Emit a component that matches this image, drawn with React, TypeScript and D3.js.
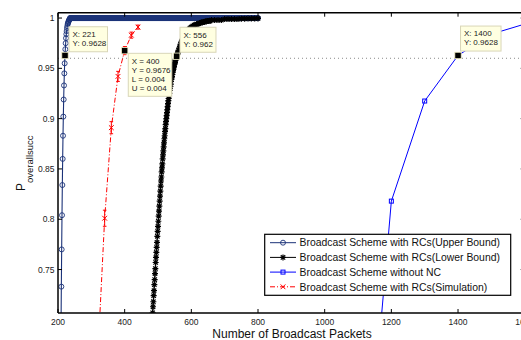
import React from "react";
import * as d3 from "d3";

// ---- data -------------------------------------------------------------
// Upper bound: one value per packet count, starting at upperBoundStart
const upperBoundStart = 209;
const upperBoundRise = [
  0.69, 0.733, 0.77, 0.804, 0.834, 0.86, 0.883, 0.902, 0.919, 0.933, 0.945,
  0.955, 0.9628, 0.969, 0.975, 0.98, 0.984, 0.987, 0.99, 0.992, 0.994, 0.995,
  0.996, 0.997, 0.998, 0.998, 0.999,
];
// after the rise the upper bound stays saturated up to the last packet count
const upperBoundSaturated = 1;
const upperBoundEnd = 800;

// Lower bound: one value per packet count from lowerBoundStart
const lowerBoundStart = 481;
const lowerBoundSteep = [
  0.69, 0.696, 0.701, 0.707, 0.713, 0.718, 0.724, 0.729, 0.735, 0.74, 0.746,
  0.751, 0.757, 0.762, 0.767, 0.772, 0.777, 0.783, 0.788, 0.793, 0.798, 0.803,
  0.808, 0.813, 0.818, 0.823, 0.828, 0.833, 0.838, 0.842, 0.847, 0.851, 0.855,
  0.86, 0.864, 0.868, 0.872, 0.876, 0.88, 0.883, 0.887, 0.89, 0.894, 0.897,
  0.9, 0.903, 0.906, 0.909, 0.912, 0.915, 0.918, 0.92, 0.923, 0.925, 0.928,
  0.93, 0.932, 0.934, 0.937, 0.939, 0.941, 0.942, 0.944, 0.946, 0.948, 0.949,
  0.951, 0.952, 0.954, 0.955, 0.956, 0.958, 0.959, 0.96, 0.961, 0.962, 0.963,
  0.964, 0.965, 0.966,
];
const lowerBoundTailX = [
  562, 564, 566, 568, 570, 572, 574, 576, 578, 580, 582, 584, 586, 588, 590,
  592, 594, 596, 598, 600, 604, 608, 612, 616, 620, 624, 628, 632, 636, 640,
  644, 648, 652, 656, 660, 670, 680, 690, 700, 710, 720, 730, 740, 750, 760,
  770, 780, 790, 800,
];
const lowerBoundTailY = [
  0.968, 0.97, 0.972, 0.974, 0.976, 0.977, 0.979, 0.98, 0.981, 0.983, 0.984,
  0.985, 0.986, 0.987, 0.988, 0.988, 0.989, 0.99, 0.99, 0.991, 0.992, 0.993,
  0.993, 0.994, 0.994, 0.995, 0.995, 0.996, 0.996, 0.996, 0.997, 0.997, 0.997,
  0.997, 0.998, 0.998, 0.998, 0.998, 0.999, 0.999, 0.999, 0.999, 0.999,
  0.9993, 0.9994, 0.9995, 0.9995, 0.9996, 0.9996,
];

// Broadcast without network coding
const noNcX = [1100, 1200, 1300, 1400, 1500, 1600];
const noNcY = [0.432, 0.818, 0.9175, 0.9628, 0.984, 0.994];

// Simulation with error bars (lower / upper deviation)
const simX = [320, 340, 360, 380, 400, 420, 440];
const simY = [0.668, 0.801, 0.891, 0.942, 0.9676, 0.983, 0.991];
const simErr = [0.009, 0.008, 0.006, 0.005, 0.004, 0.003, 0.002];

const xTicks = [200, 400, 600, 800, 1000, 1200, 1400, 1600];
const yTicks = [0.75, 0.8, 0.85, 0.9, 0.95, 1];
const thresholdLevel = 0.96;

const legendLabels = [
  "Broadcast Scheme with RCs(Upper Bound)",
  "Broadcast Scheme with RCs(Lower Bound)",
  "Broadcast Scheme without NC",
  "Broadcast Scheme with RCs(Simulation)",
];

type Pt = { x: number; y: number };

const upperPoints: Pt[] = [
  ...upperBoundRise.map((y, i) => ({ x: upperBoundStart + i, y })),
  ...d3
    .range(upperBoundStart + upperBoundRise.length, upperBoundEnd + 1)
    .map((x) => ({ x, y: upperBoundSaturated })),
];
const lowerPoints: Pt[] = [
  ...lowerBoundSteep.map((y, i) => ({ x: lowerBoundStart + i, y })),
  ...lowerBoundTailX.map((x, i) => ({ x, y: lowerBoundTailY[i] })),
];
const noNcPoints: Pt[] = noNcX.map((x, i) => ({ x, y: noNcY[i] }));
const simPoints = simX.map((x, i) => ({ x, y: simY[i], e: simErr[i] }));

// ---- layout -----------------------------------------------------------
const W = 521;
const H = 340;
const left = 58;
const right = 524.7;
const top = 12.7;
const bottom = 313;

const x = d3.scaleLinear().domain([200, 1600]).range([left, right]);
const y = d3.scaleLinear().domain([0.7068, 1.0053]).range([bottom, top]);

const navy = "#1b3278";
const blue = "#0000ff";
const red = "#ff0000";
const font = "'Liberation Sans', Arial, Helvetica, sans-serif";

const line = d3
  .line<Pt>()
  .x((d) => x(d.x))
  .y((d) => y(d.y));

const starPath =
  "M-3,0H3M0,-3V3M-2.2,-2.2L2.2,2.2M-2.2,2.2L2.2,-2.2";
const crossPath = "M-2.4,-2.4L2.4,2.4M-2.4,2.4L2.4,-2.4";

function Circle({ cx, cy }: { cx: number; cy: number }) {
  return (
    <circle cx={cx} cy={cy} r={2.5} fill="none" stroke={navy} strokeWidth={0.9} />
  );
}
function Star({ cx, cy }: { cx: number; cy: number }) {
  return (
    <path d={starPath} transform={`translate(${cx},${cy})`} stroke="#000" strokeWidth={1.2} fill="none" />
  );
}
function Square({ cx, cy }: { cx: number; cy: number }) {
  return (
    <rect x={cx - 2} y={cy - 2} width={4} height={4} fill="none" stroke={blue} strokeWidth={1} />
  );
}
function Cross({ cx, cy }: { cx: number; cy: number }) {
  return (
    <path d={crossPath} transform={`translate(${cx},${cy})`} stroke={red} strokeWidth={1} fill="none" />
  );
}

// data tips: anchored on a data point, box offset from the marker
const tips = [
  { px: 221, py: 0.9628, lines: ["X: 221", "Y: 0.9628"], dx: 4, dy: -28.7, w: 38.5 },
  {
    px: 400,
    py: 0.9676,
    lines: ["X = 400", "Y = 0.9676", "L = 0.004", "U = 0.004"],
    dx: 3.6,
    dy: 2.7,
    w: 43.5,
  },
  { px: 556, py: 0.962, lines: ["X: 556", "Y: 0.962"], dx: 3.3, dy: -29, w: 36 },
  { px: 1400, py: 0.9628, lines: ["X: 1400", "Y: 0.9628"], dx: 2.5, dy: -29.4, w: 40.5 },
];

export default function App() {
  const legendX = 264.7;
  const legendY = 234.3;
  const rowY = (i: number) => 242.7 + i * 14.7;

  return (
    <svg
      width={W}
      height={H}
      style={{ position: "absolute", left: 0, top: 0, background: "#fff" }}
      fontFamily={font}
    >
      <defs>
        <clipPath id="plot">
          <rect x={left} y={top} width={right - left} height={bottom - top} />
        </clipPath>
      </defs>
      <rect x={0} y={0} width={W} height={H} fill="#fff" />

      {/* threshold reference line */}
      <line
        x1={left}
        x2={right}
        y1={y(thresholdLevel)}
        y2={y(thresholdLevel)}
        stroke="#8a8a8a"
        strokeWidth={1}
        strokeDasharray="1,3"
      />

      <g clipPath="url(#plot)">
        {/* upper bound */}
        <path d={line(upperPoints) ?? ""} fill="none" stroke={navy} strokeWidth={1.1} />
        {upperPoints.map((d, i) => (
          <Circle key={"u" + i} cx={x(d.x)} cy={y(d.y)} />
        ))}

        {/* lower bound */}
        <path d={line(lowerPoints) ?? ""} fill="none" stroke="#000" strokeWidth={1.1} />
        {lowerPoints.map((d, i) => (
          <Star key={"l" + i} cx={x(d.x)} cy={y(d.y)} />
        ))}

        {/* without network coding */}
        <path d={line(noNcPoints) ?? ""} fill="none" stroke={blue} strokeWidth={1} />
        {noNcPoints.map((d, i) => (
          <Square key={"n" + i} cx={x(d.x)} cy={y(d.y)} />
        ))}

        {/* simulation */}
        <path
          d={line(simPoints) ?? ""}
          fill="none"
          stroke={red}
          strokeWidth={1}
          strokeDasharray="5,2,1,2"
        />
        {simPoints.map((d, i) => {
          const cx = x(d.x);
          const y1 = y(d.y - d.e);
          const y2 = y(d.y + d.e);
          return (
            <g key={"s" + i} stroke={red} strokeWidth={1}>
              <line x1={cx} x2={cx} y1={y1} y2={y2} />
              <line x1={cx - 1.8} x2={cx + 1.8} y1={y1} y2={y1} />
              <line x1={cx - 1.8} x2={cx + 1.8} y1={y2} y2={y2} />
              <Cross cx={cx} cy={y(d.y)} />
            </g>
          );
        })}
      </g>

      {/* axes box */}
      <g stroke="#000" strokeWidth={1.5} fill="none">
        <line x1={left} x2={right} y1={top} y2={top} />
        <line x1={left} x2={right} y1={bottom} y2={bottom} />
        <line x1={left} x2={left} y1={top} y2={bottom} />
        <line x1={right} x2={right} y1={top} y2={bottom} />
      </g>
      <g stroke="#000" strokeWidth={1}>
        {xTicks.map((t) => (
          <g key={"xt" + t}>
            <line x1={x(t)} x2={x(t)} y1={bottom} y2={bottom - 4} />
            <line x1={x(t)} x2={x(t)} y1={top} y2={top + 4} />
          </g>
        ))}
        {yTicks.map((t) => (
          <g key={"yt" + t}>
            <line x1={left} x2={left + 4} y1={y(t)} y2={y(t)} />
            <line x1={right} x2={right - 4} y1={y(t)} y2={y(t)} />
          </g>
        ))}
      </g>
      <g fontSize={8.5} fill="#222">
        {xTicks.map((t) => (
          <text key={"xl" + t} x={x(t)} y={324.5} textAnchor="middle">
            {t}
          </text>
        ))}
        {yTicks.map((t) => (
          <text key={"yl" + t} x={54.5} y={y(t) + 3} textAnchor="end">
            {t}
          </text>
        ))}
      </g>

      {/* axis titles */}
      <text x={292} y={337.5} textAnchor="middle" fontSize={12} fill="#111">
        Number of Broadcast Packets
      </text>
      <text transform="translate(25,191) rotate(-90)" fontSize={12} fill="#111">
        P
        <tspan dy={7.5} fontSize={9.5}>
          overallsucc
        </tspan>
      </text>

      {/* data tips */}
      {tips.map((t, i) => {
        const mx = x(t.px);
        const my = y(t.py);
        const bx = mx + t.dx;
        const by = my + t.dy;
        const h = 7 + t.lines.length * 9;
        return (
          <g key={"tip" + i}>
            <rect x={bx} y={by} width={t.w} height={h} fill="#ffffe1" stroke="#d9d6b8" strokeWidth={1} />
            {t.lines.map((s, j) => (
              <text key={j} x={bx + 3.5} y={by + 10.3 + j * 9} fontSize={8} fill="#222">
                {s}
              </text>
            ))}
            <rect x={mx - 3.2} y={my - 3.2} width={6.4} height={6.4} fill="#000" stroke="#f3f0c8" strokeWidth={0.8} />
          </g>
        );
      })}

      {/* legend */}
      <rect x={legendX} y={legendY} width={246} height={61} fill="#fff" stroke="#000" strokeWidth={1.2} />
      {legendLabels.map((label, i) => {
        const ly = rowY(i);
        const stroke = [navy, "#000", blue, red][i];
        return (
          <g key={"lg" + i}>
            <line
              x1={270}
              x2={296}
              y1={ly}
              y2={ly}
              stroke={stroke}
              strokeWidth={1}
              strokeDasharray={i === 3 ? "5,2,1,2" : undefined}
            />
            {i === 0 && <Circle cx={283} cy={ly} />}
            {i === 1 && <Star cx={283} cy={ly} />}
            {i === 2 && <Square cx={283} cy={ly} />}
            {i === 3 && <Cross cx={283} cy={ly} />}
            <text x={299.5} y={ly + 3.7} fontSize={10.4} fill="#111">
              {label}
            </text>
          </g>
        );
      })}
    </svg>
  );
}
